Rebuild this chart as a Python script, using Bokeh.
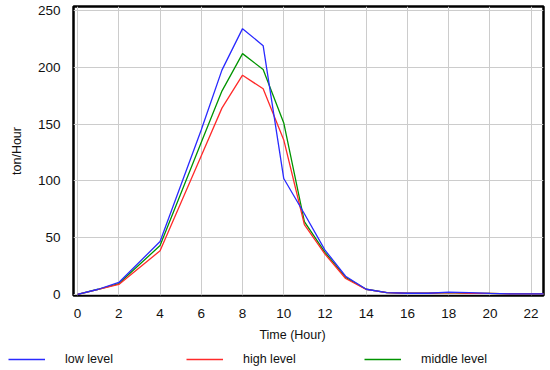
from bokeh.plotting import figure
from bokeh.layouts import column
from bokeh.models import Legend, LegendItem, Label, Range1d, FixedTicker
from bokeh.embed import file_html
from bokeh.resources import INLINE

hours = [0, 1, 2, 4, 6, 7, 8, 9, 10, 11, 12, 13, 14, 15, 16, 17, 18, 19, 20, 21, 22, 23]
low_level = [0, 4.5, 10.5, 46.5, 145, 197.5, 234, 219, 102, 71, 39, 16, 4.5, 1.5, 1, 1, 2, 1.5, 0.8, 0.5, 0.5, 0.5]
high_level = [0, 4.3, 8.7, 38.4, 122, 164, 193, 181, 136, 61.5, 35.5, 14, 4.3, 1.5, 1, 1, 1.5, 1, 0.8, 0.5, 0.5, 0.5]
middle_level = [0, 4.5, 9.5, 43, 134, 179, 212, 198, 151, 64, 37, 15, 4.5, 1.5, 1, 1, 1.5, 1, 0.8, 0.5, 0.5, 0.5]
x_ticks = [0, 2, 4, 6, 8, 10, 12, 14, 16, 18, 20, 22]
y_ticks = [0, 50, 100, 150, 200, 250]
series_names = ["low level", "high level", "middle level"]
series_colors = ["#2a2aff", "#ff2a2a", "#009400"]

FONT = "Liberation Sans"
TEXT_COLOR = "#111111"

p = figure(width=550, height=320, output_backend="svg", toolbar_location=None,
           x_range=Range1d(-0.2, 22.6), y_range=Range1d(-1, 253.5),
           min_border_left=73, min_border_right=7, min_border_top=6, min_border_bottom=22)
p.frame_align = False

p.outline_line_color = "black"
p.outline_line_width = 2.5

for ax in (p.xaxis[0], p.yaxis[0]):
    ax.axis_line_color = None
    ax.major_tick_line_color = None
    ax.minor_tick_line_color = None
    ax.major_label_text_font = FONT
    ax.major_label_text_font_size = "13.5px"
    ax.major_label_text_color = TEXT_COLOR
    ax.major_label_standoff = 7

p.xaxis.ticker = FixedTicker(ticks=x_ticks)
p.yaxis.ticker = FixedTicker(ticks=y_ticks)

p.yaxis.axis_label = "ton/Hour"
p.yaxis.axis_label_text_font = FONT
p.yaxis.axis_label_text_font_size = "12.5px"
p.yaxis.axis_label_text_font_style = "normal"
p.yaxis.axis_label_text_color = TEXT_COLOR
p.yaxis.axis_label_standoff = 11

p.grid.grid_line_color = "#cccccc"
p.grid.grid_line_width = 1
p.xgrid.ticker = FixedTicker(ticks=x_ticks)
p.ygrid.ticker = FixedTicker(ticks=y_ticks)

p.line(hours, middle_level, line_color=series_colors[2], line_width=1.3)
p.line(hours, high_level, line_color=series_colors[1], line_width=1.3)
p.line(hours, low_level, line_color=series_colors[0], line_width=1.3)

# footer: x-axis title + legend (pixel-like coordinates)
f = figure(width=550, height=50, output_backend="svg", toolbar_location=None,
           x_range=Range1d(0, 550), y_range=Range1d(0, 50),
           min_border=0, min_border_left=0, min_border_right=0, min_border_top=0, min_border_bottom=0,
           x_axis_type=None, y_axis_type=None)
f.frame_align = False
f.outline_line_color = None
f.grid.visible = False
f.background_fill_alpha = 0
f.border_fill_alpha = 0

f.add_layout(Label(x=292, y=36, text="Time (Hour)", text_font=FONT, text_font_size="12.5px",
                   text_align="center", text_baseline="middle", text_color=TEXT_COLOR))

items = []
for name, color in zip(series_names, series_colors):
    r = f.line(x=[-100, -90], y=[-100, -100], line_color=color, line_width=1.5)
    items.append(LegendItem(label=name, renderers=[r]))

legend = Legend(items=items, orientation="horizontal", location=(8, 4),
                glyph_width=37, glyph_height=14, label_height=14, label_standoff=20, label_width=116,
                spacing=5, padding=0, margin=0,
                border_line_color=None, background_fill_alpha=0,
                label_text_font=FONT, label_text_font_size="12.5px", label_text_color=TEXT_COLOR)
f.add_layout(legend, "center")

layout = column(p, f, spacing=0)
open("out.html", "w").write(file_html(layout, INLINE))
